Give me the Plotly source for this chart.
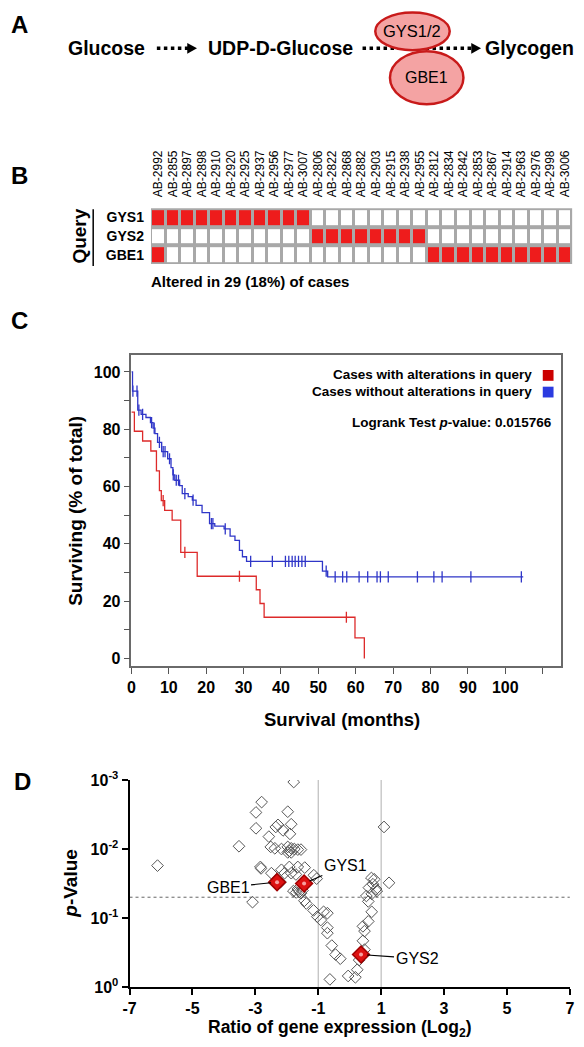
import math
import plotly.graph_objects as go

W, H = 584, 1047
FONT = "Liberation Sans, Arial, Helvetica, sans-serif"


def fx(x):
    return x / W


def fy(y):
    return 1 - y / H


# ---------------- Panel A : pathway ----------------
pathway_steps = ["Glucose", "UDP-D-Glucose", "Glycogen"]
enzymes = ["GYS1/2", "GBE1"]

# ---------------- Panel B : oncoprint ----------------
samples = ["AB-2992", "AB-2855", "AB-2897", "AB-2898", "AB-2910", "AB-2920", "AB-2925",
           "AB-2937", "AB-2956", "AB-2977", "AB-3007", "AB-2806", "AB-2822", "AB-2868",
           "AB-2882", "AB-2903", "AB-2915", "AB-2938", "AB-2955", "AB-2812", "AB-2834",
           "AB-2842", "AB-2853", "AB-2867", "AB-2914", "AB-2963", "AB-2976", "AB-2998",
           "AB-3006"]
genes = ["GYS1", "GYS2", "GBE1"]
alt_gys1 = [1, 1, 1, 1, 1, 1, 1, 1, 1, 1, 1, 0, 0, 0, 0, 0, 0, 0, 0, 0, 0, 0, 0, 0, 0, 0, 0, 0, 0]
alt_gys2 = [0, 0, 0, 0, 0, 0, 0, 0, 0, 0, 0, 1, 1, 1, 1, 1, 1, 1, 1, 0, 0, 0, 0, 0, 0, 0, 0, 0, 0]
alt_gbe1 = [1, 0, 0, 0, 0, 0, 0, 0, 0, 0, 0, 0, 0, 0, 0, 0, 0, 0, 0, 1, 1, 1, 1, 1, 1, 1, 1, 1, 1]
altered_text = "Altered in 29 (18%) of cases"

# ---------------- Panel C : Kaplan-Meier ----------------
red_times = [0, 0.8, 3.0, 5.2, 6.7, 7.5, 8.0, 8.9, 10.9, 13.2, 17.6, 33.4, 34.4, 35.5, 59.8, 62.3]
red_surv = [86.0, 79.3, 75.9, 72.4, 65.5, 58.6, 55.1, 51.7, 48.3, 37.0, 28.7, 24.0, 19.2, 14.4, 7.2, 0.0]
red_cens_t = [8.5, 14.3, 28.9, 57.5]
red_cens_s = [55.1, 37.0, 28.7, 14.4]

blue_times = [0, 0.3, 1.7, 2.6, 3.9, 5.1, 5.8, 6.3, 7.0, 8.1, 9.7, 10.6, 11.1, 11.6, 12.9, 13.6,
              15.2, 16.3, 17.3, 18.9, 20.9, 22.3, 24.8, 26.4, 27.7, 28.9, 29.7, 30.8, 51.1, 52.5,
              104.8]
blue_surv = [100, 93.3, 86.7, 85.2, 84.1, 82.3, 80.4, 78.5, 75.4, 72.2, 69.7, 66.6, 64.1, 62.2,
             60.3, 57.5, 56.5, 55.3, 53.4, 50.9, 47.1, 46.2, 45.2, 42.7, 41.2, 37.7, 35.5, 33.9,
             30.5, 28.5, 28.5]
blue_cens_t = [0.4, 1.5, 2.0, 3.0, 5.4, 6.1, 7.5, 8.5, 9.0, 10.2, 11.2, 12.0, 12.6, 14.3, 16.5,
               21.4, 21.8, 25.1, 31.9, 37.7, 41.2, 42.1, 43.0, 43.8, 44.7, 45.6, 46.5, 52.1,
               54.5, 56.5, 57.6, 60.9, 63.2, 65.7, 66.6, 68.7, 76.5, 80.9, 83.1, 90.8, 104.3]
blue_cens_s = [93.3, 93.3, 86.7, 85.2, 82.3, 80.4, 75.4, 72.2, 72.2, 69.7, 64.1, 62.2, 62.2, 57.5,
               55.3, 47.1, 47.1, 45.2, 33.9, 33.9, 33.9, 33.9, 33.9, 33.9, 33.9, 33.9, 33.9, 30.5,
               28.5, 28.5, 28.5, 28.5, 28.5, 28.5, 28.5, 28.5, 28.5, 28.5, 28.5, 28.5, 28.5]
km_x_ticks = [0, 10, 20, 30, 40, 50, 60, 70, 80, 90, 100, 110]
km_y_ticks = [0, 10, 20, 30, 40, 50, 60, 70, 80, 90, 100]
legend_labels = ["Cases with alterations in query", "Cases without alterations in query"]
logrank_p = "0.015766"

# ---------------- Panel D : volcano ----------------
d_ratio = [-1.78, -2.80, -2.98, -1.97, -2.98, -2.28, -2.35, -1.86, -2.12, -1.90, -2.57, -3.52,
           -2.51, -2.38, -2.17, -1.97, -1.86, -1.76, -1.65, -1.55, -1.97, -1.86, -1.92, -6.11,
           -2.84, -2.82, -2.49, -2.17, -1.92, -1.65, -1.43, -2.07, -1.86, -1.71, -1.14, -1.05,
           1.09, 0.69, 0.78, 1.25, 0.61, 0.84, 0.74, -2.20, -3.09, -1.79, -1.70, -1.60, -1.55,
           -1.65, -1.50, -1.44, -1.38, -1.15, -1.03, -0.92, -0.83, -0.71, -0.71, -0.71, -0.57,
           -0.45, -0.30, -0.63, -0.05, 0.18, 0.24, 0.30, 0.47, 0.42, 0.47, 0.42, 0.59, 0.70,
           0.59, 0.53, 0.70, 0.86]
d_pvalue = [0.00107, 0.00209, 0.00295, 0.00288, 0.00501, 0.00447, 0.00479, 0.00437, 0.00537,
            0.00603, 0.00661, 0.00912, 0.00933, 0.00977, 0.0100, 0.00933, 0.00977, 0.0100,
            0.0102, 0.0102, 0.0112, 0.0112, 0.0107, 0.0174, 0.0182, 0.0191, 0.0224, 0.0200,
            0.0182, 0.0182, 0.0186, 0.0224, 0.0224, 0.0234, 0.0240, 0.0269, 0.00479, 0.0263,
            0.0275, 0.0309, 0.0363, 0.0380, 0.0324, 0.0302, 0.0589, 0.0407, 0.0427, 0.0417,
            0.0437, 0.0380, 0.0398, 0.0562, 0.0617, 0.0776, 0.0955, 0.107, 0.0813, 0.0851,
            0.138, 0.166, 0.251, 0.339, 0.389, 0.776, 0.692, 0.724, 0.562, 0.407, 0.288, 0.214,
            0.155, 0.132, 0.112, 0.0813, 0.0575, 0.0479, 0.0447, 0.0407]
hl_genes = ["GBE1", "GYS1", "GYS2"]
hl_ratio = [-2.31, -1.45, 0.36]
hl_pvalue = [0.0302, 0.0316, 0.339]
hl_label_offset = [(-49, 5), (41, -18), (56, 4)]
d_x_ticks = [-7, -5, -3, -1, 1, 3, 5, 7]
d_y_ticks = [0.001, 0.01, 0.1, 1]
d_y_ticktext = ["10<sup>-3</sup>", "10<sup>-2</sup>", "10<sup>-1</sup>", "10<sup>0</sup>"]
fold_lines = [-1, 1]
p_cutoff = 0.05

fig = go.Figure()

# ---- Panel B heatmap
fig.add_trace(go.Heatmap(
    z=[alt_gys1, alt_gys2, alt_gbe1], x=samples, y=genes,
    colorscale=[[0, "#ffffff"], [1, "#ee1c1c"]], zmin=0, zmax=1, showscale=False,
    xgap=3, ygap=4, xaxis="x2", yaxis="y2", hoverinfo="skip"))

# ---- Panel C KM curves
fig.add_trace(go.Scatter(x=red_times, y=red_surv, mode="lines", line=dict(color="#dd2a2a", width=1.3, shape="hv"),
                         xaxis="x", yaxis="y", showlegend=False))
fig.add_trace(go.Scatter(x=blue_times, y=blue_surv, mode="lines", line=dict(color="#2f36c8", width=1.3, shape="hv"),
                         xaxis="x", yaxis="y", showlegend=False))
fig.add_trace(go.Scatter(x=red_cens_t, y=red_cens_s, mode="markers",
                         marker=dict(symbol="line-ns", size=8, line=dict(color="#dd2a2a", width=1.3)),
                         xaxis="x", yaxis="y", showlegend=False))
fig.add_trace(go.Scatter(x=blue_cens_t, y=blue_cens_s, mode="markers",
                         marker=dict(symbol="line-ns", size=8, line=dict(color="#2f36c8", width=1.3)),
                         xaxis="x", yaxis="y", showlegend=False))

# ---- Panel D volcano
for fl in fold_lines:
    fig.add_trace(go.Scatter(x=[fl, fl], y=[d_y_ticks[0], d_y_ticks[-1]], mode="lines",
                             line=dict(color="#bdbdbd", width=1.2), xaxis="x3", yaxis="y3",
                             showlegend=False, hoverinfo="skip"))
fig.add_trace(go.Scatter(x=[d_x_ticks[0], d_x_ticks[-1]], y=[p_cutoff, p_cutoff], mode="lines",
                         line=dict(color="#666666", width=1, dash="dot"), xaxis="x3", yaxis="y3",
                         showlegend=False, hoverinfo="skip"))
fig.add_trace(go.Scatter(x=d_ratio, y=d_pvalue, mode="markers",
                         marker=dict(symbol="diamond-open", size=9, color="#555555", line=dict(width=1)),
                         xaxis="x3", yaxis="y3", showlegend=False))
fig.add_trace(go.Scatter(x=hl_ratio, y=hl_pvalue, mode="markers",
                         marker=dict(symbol="diamond", size=13, color="#dd1111",
                                     line=dict(color="#a00000", width=1.5)),
                         xaxis="x3", yaxis="y3", showlegend=False))
fig.add_trace(go.Scatter(x=hl_ratio, y=hl_pvalue, mode="markers",
                         marker=dict(symbol="circle", size=4, color="#f6a0a0"),
                         xaxis="x3", yaxis="y3", showlegend=False))

shapes = []
annotations = []


def txt(x, y, s, size, bold=True, xanchor="center", angle=0, color="black"):
    annotations.append(dict(x=fx(x), y=fy(y), xref="paper", yref="paper", text=(f"<b>{s}</b>" if bold else s),
                            showarrow=False, xanchor=xanchor, yanchor="middle", textangle=angle,
                            font=dict(family=FONT, size=size, color=color)))


# Panel letters
txt(13, 14, "A", 24)
txt(13, 168, "B", 24)
txt(13, 316, "C", 24)
txt(16, 786, "D", 24)

# Panel A
ROW = 38
step_x = [102, 279.7, 533]
for sx, s in zip(step_x, pathway_steps):
    txt(sx, ROW, s, 19.5)


def dotted_arrow(x0, x1, y):
    shapes.append(dict(type="line", xref="paper", yref="paper", x0=fx(x0), x1=fx(x1 - 9), y0=fy(y), y1=fy(y),
                       line=dict(color="black", width=3.5, dash="dot")))
    shapes.append(dict(type="path", xref="paper", yref="paper",
                       path=f"M {fx(x1-10)} {fy(y-5.5)} L {fx(x1)} {fy(y)} L {fx(x1-10)} {fy(y+5.5)} Z",
                       fillcolor="black", line=dict(color="black", width=0)))


dotted_arrow(153, 194, ROW)
dotted_arrow(363, 484, ROW)

ell = [(376, 452, 1.5, 40, 20.5), (391, 466, 41, 95, 68)]
for (x0, x1, y0, y1, yc), name in zip(ell, enzymes):
    shapes.append(dict(type="circle", xref="paper", yref="paper", x0=fx(x0), x1=fx(x1), y0=fy(y0), y1=fy(y1),
                       fillcolor="#f4a3a3", line=dict(color="#c81a1a", width=2.5)))
    txt((x0 + x1) / 2, yc, name, 16.5 if name == "GYS1/2" else 16, bold=False)

# Panel B decorations
GRID_TOP, GRID_BOT = 201, 258
shapes.append(dict(type="rect", xref="x2 domain", yref="y2 domain", x0=0, x1=1, y0=0, y1=1,
                   fillcolor="#a8a8a8", line=dict(width=0), layer="below"))
shapes.append(dict(type="line", xref="paper", yref="paper", x0=fx(88), x1=fx(88), y0=fy(GRID_TOP + 1),
                   y1=fy(GRID_BOT + 2), line=dict(color="black", width=1.5)))
txt(74, (GRID_TOP + GRID_BOT) / 2, "Query", 19, angle=-90)
txt(145, 276, altered_text, 15, xanchor="left")

# Panel C legend
annotations.append(dict(x=fx(538), y=fy(371), xref="paper", yref="paper", text=f"<b>{legend_labels[0]}</b>",
                        showarrow=False, xanchor="right", yanchor="middle", font=dict(family=FONT, size=13.5)))
annotations.append(dict(x=fx(538), y=fy(388), xref="paper", yref="paper", text=f"<b>{legend_labels[1]}</b>",
                        showarrow=False, xanchor="right", yanchor="middle", font=dict(family=FONT, size=13.5)))
shapes.append(dict(type="rect", xref="paper", yref="paper", x0=fx(547), x1=fx(558), y0=fy(366), y1=fy(377),
                   fillcolor="#cc0000", line=dict(width=0)))
shapes.append(dict(type="rect", xref="paper", yref="paper", x0=fx(547), x1=fx(558), y0=fy(383), y1=fy(394),
                   fillcolor="#2b3be0", line=dict(width=0)))
annotations.append(dict(x=fx(558), y=fy(420), xref="paper", yref="paper",
                        text=f"<b>Logrank Test <i>p</i>-value: {logrank_p}</b>",
                        showarrow=False, xanchor="right", yanchor="middle", font=dict(family=FONT, size=13.5)))
txt(70, 510, "Surviving (% of total)", 19, angle=-90)
txt(342, 722, "Survival (months)", 18.5)

# Panel D titles and labels
txt(64, 889, "<i>p</i>-Value", 19, angle=-90)
txt(340, 1037.5, "Ratio of gene expression (Log<sub>2</sub>)", 17.5)
for g, xr, pv, (ax, ay) in zip(hl_genes, hl_ratio, hl_pvalue, hl_label_offset):
    annotations.append(dict(x=xr, y=math.log10(pv), xref="x3", yref="y3", text=g, showarrow=True,
                            arrowhead=0, arrowwidth=1.2, arrowcolor="black", ax=ax, ay=ay, standoff=6,
                            font=dict(family=FONT, size=16, color="black")))

axis_common = dict(showgrid=False, zeroline=False)

fig.update_layout(
    width=W, height=H, margin=dict(l=0, r=0, t=0, b=0),
    paper_bgcolor="white", plot_bgcolor="white", showlegend=False,
    font=dict(family=FONT, color="black"),
    shapes=shapes, annotations=annotations,
    # Panel C
    xaxis=dict(domain=[fx(127), fx(566)], anchor="y", range=[0, 115],
               tickvals=km_x_ticks,
               ticktext=[f"<b>{t}</b>" if t <= 100 else "" for t in km_x_ticks],
               ticks="outside", ticklen=6, tickcolor="#555555", tickfont=dict(size=16),
               showline=True, linecolor="#6a6a6a", linewidth=1.5, mirror=True, **axis_common),
    yaxis=dict(domain=[fy(668), fy(351)], anchor="x", range=[-2.7, 105.8],
               tickvals=km_y_ticks,
               ticktext=[f"<b>{t}</b>" if t % 20 == 0 else "" for t in km_y_ticks],
               ticks="outside", ticklen=6, tickcolor="#555555", tickfont=dict(size=16),
               showline=True, linecolor="#6a6a6a", linewidth=1.5, mirror=True, **axis_common),
    # Panel B
    xaxis2=dict(domain=[fx(147), fx(577)], anchor="y2", side="top", type="category",
                tickmode="array", tickvals=samples, ticktext=samples,
                tickangle=-90, tickfont=dict(size=12), ticks="", ticklabelstandoff=10,
                showline=False, **axis_common),
    yaxis2=dict(domain=[fy(GRID_BOT), fy(GRID_TOP)], anchor="x2", type="category", autorange="reversed",
                tickmode="array", tickvals=genes, ticktext=[f"<b>{g}</b>" for g in genes], tickfont=dict(size=14),
                ticks="", ticklabelstandoff=6, showline=False, **axis_common),
    # Panel D
    xaxis3=dict(domain=[fx(125.1), fx(574.7)], anchor="y3", range=[-7, 7],
                tickvals=d_x_ticks, ticktext=[f"<b>{t}</b>" for t in d_x_ticks],
                ticks="outside", ticklen=6, tickwidth=2, tickcolor="black", tickfont=dict(size=16),
                showline=True, linecolor="black", linewidth=2, **axis_common),
    yaxis3=dict(domain=[fy(995), fy(784)], anchor="x3", type="log", range=[0, -3],
                tickvals=d_y_ticks, ticktext=[f"<b>{t}</b>" for t in d_y_ticktext],
                ticks="outside", ticklen=6, tickwidth=2, tickcolor="black", tickfont=dict(size=16),
                showline=True, linecolor="black", linewidth=2, **axis_common),
)

fig.write_html("out.html", config={"displayModeBar": False},
               post_script="document.body.style.margin='0px';document.body.style.padding='0px';"
                           "document.documentElement.style.overflow='hidden';")
